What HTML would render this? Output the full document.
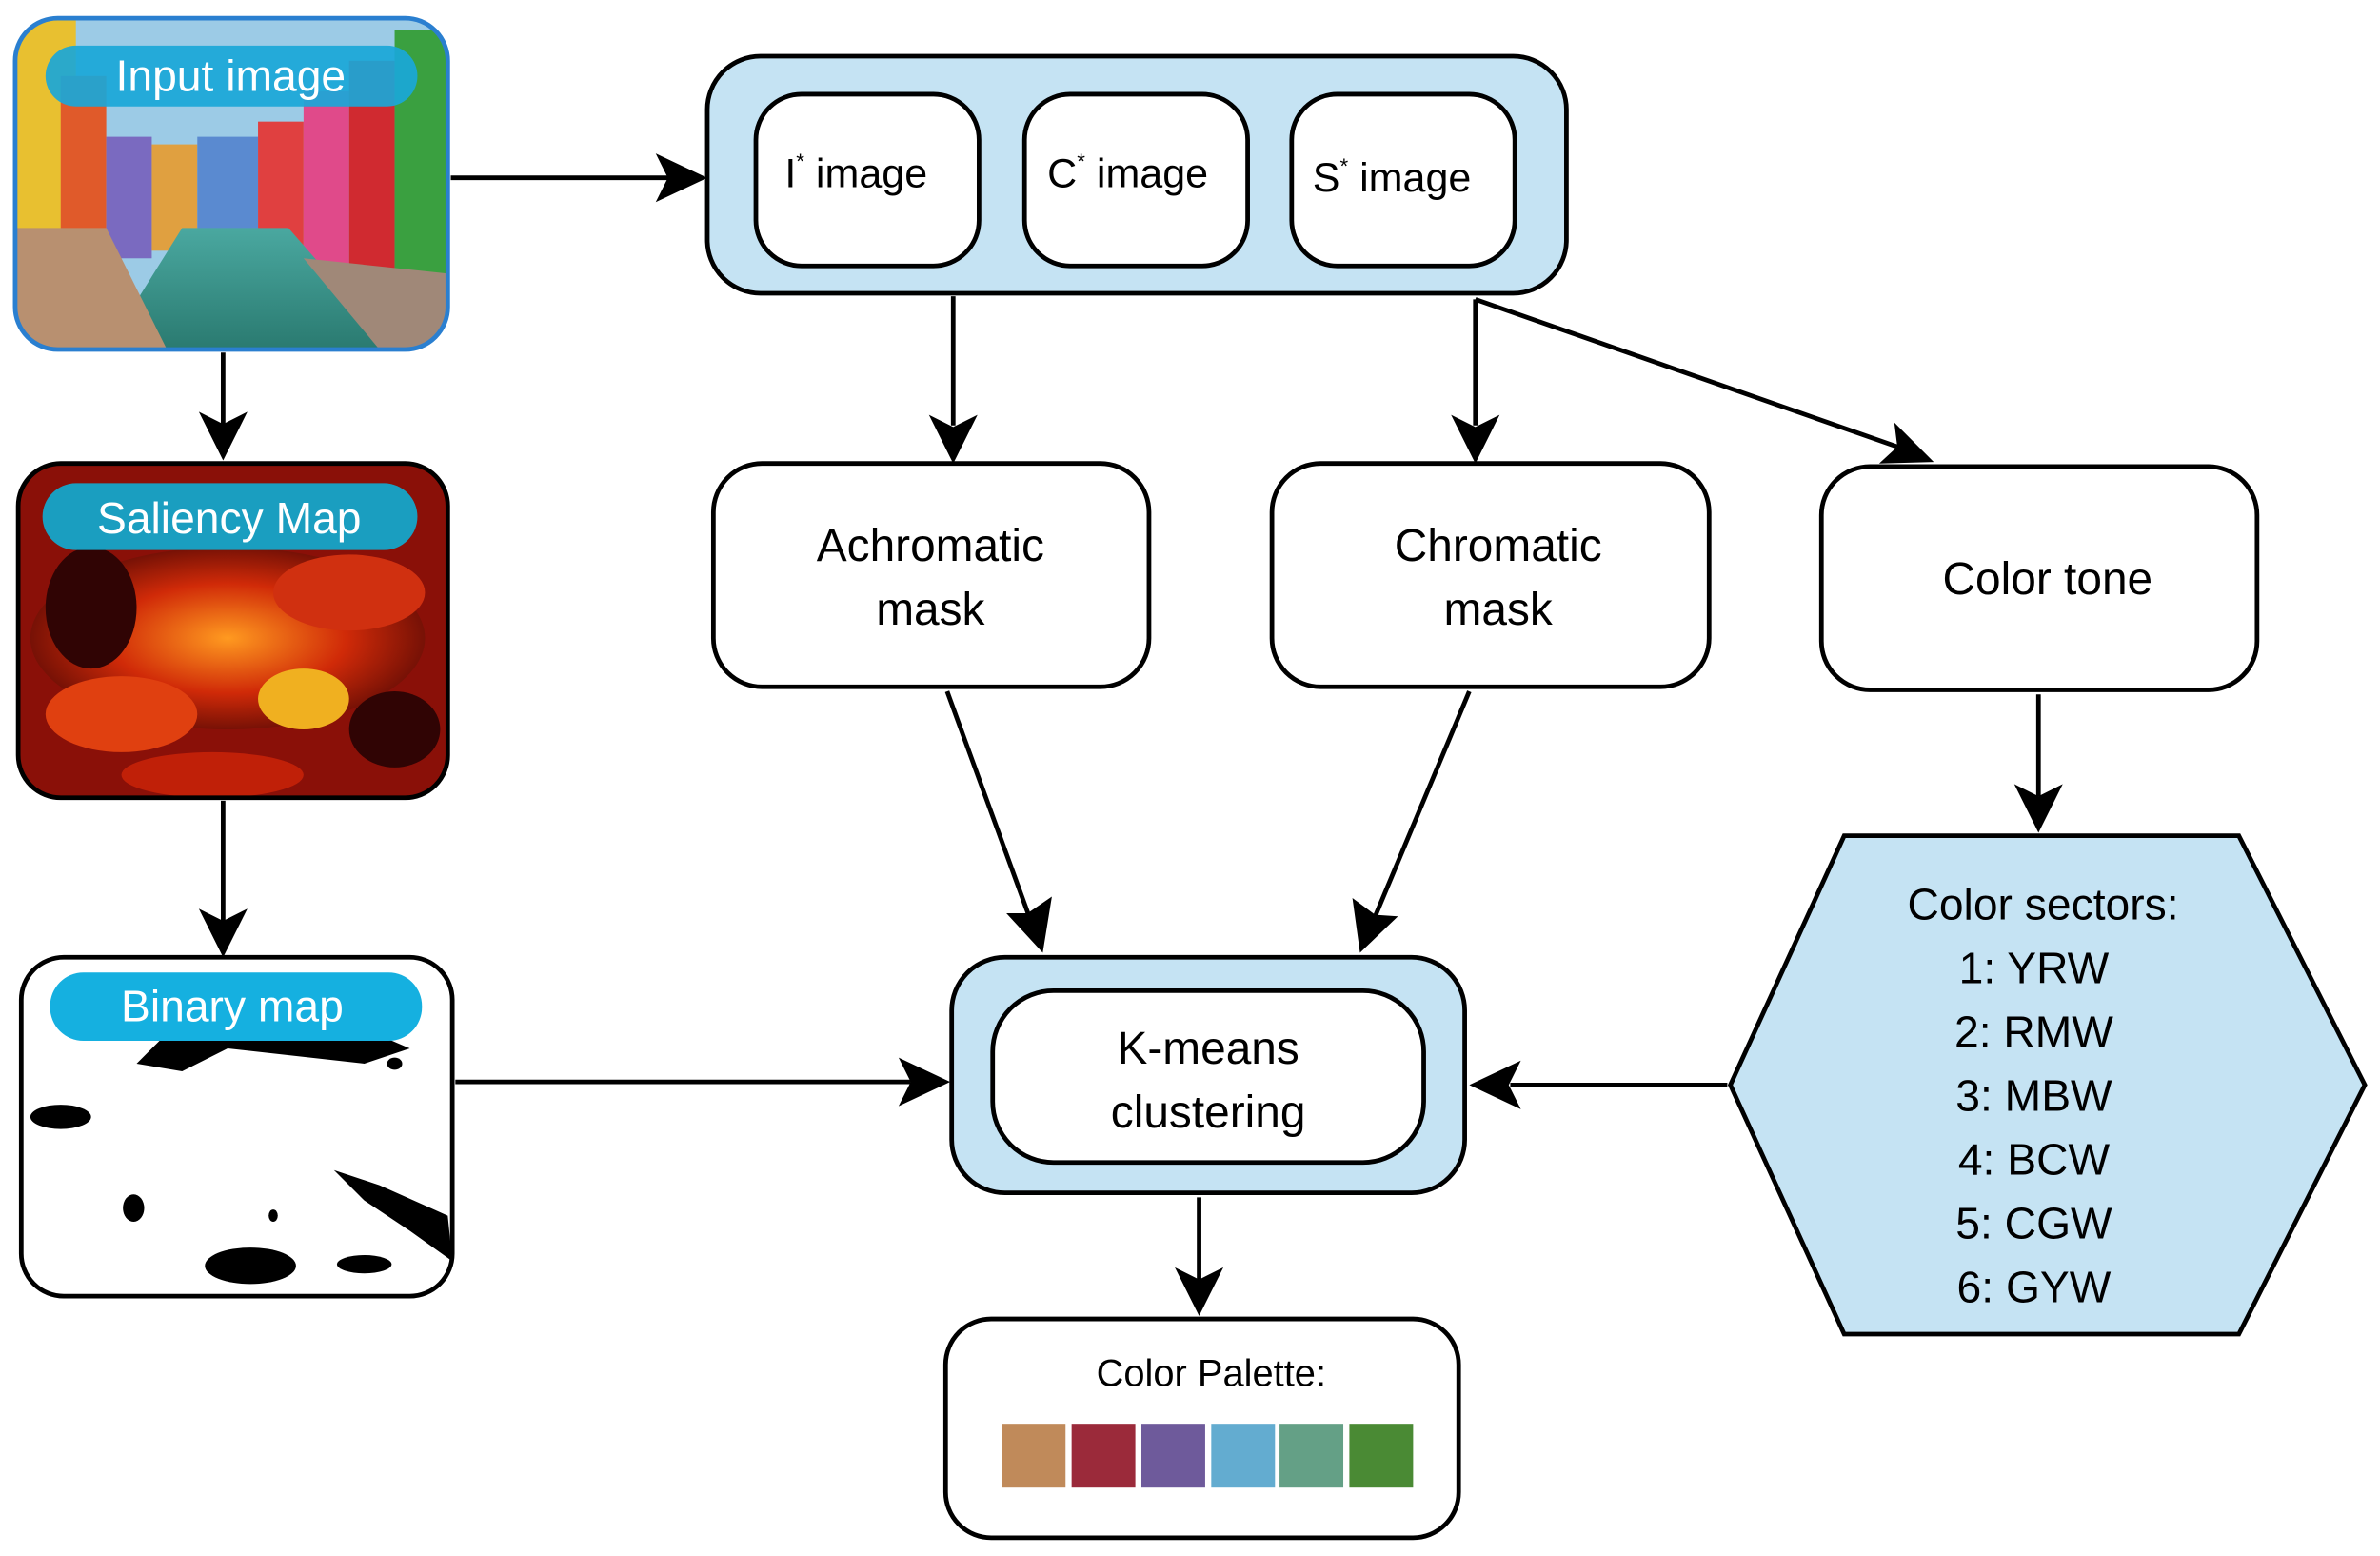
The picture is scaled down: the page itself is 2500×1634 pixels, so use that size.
<!DOCTYPE html>
<html><head><meta charset="utf-8"><style>
html,body{margin:0;padding:0;background:#fff;}
svg{display:block;}
text{font-family:"Liberation Sans",sans-serif;}
</style></head><body>
<svg width="2500" height="1634" viewBox="0 0 1568 1024" preserveAspectRatio="none" xmlns="http://www.w3.org/2000/svg">
<defs>
<marker id="ah" markerWidth="10" markerHeight="10" refX="9" refY="5" orient="auto" markerUnits="userSpaceOnUse" viewBox="0 0 10 10">
</marker>
<clipPath id="c1"><rect x="10" y="12" width="285" height="218" rx="28"/></clipPath>
<clipPath id="c2"><rect x="12" y="305" width="283" height="220" rx="28"/></clipPath>
<clipPath id="c3"><rect x="14" y="630" width="284" height="223" rx="28"/></clipPath>
<radialGradient id="hot" cx="50%" cy="50%" r="60%"><stop offset="0" stop-color="#ff9a20"/><stop offset="0.5" stop-color="#d02a08"/><stop offset="1" stop-color="#4a0505"/></radialGradient>
<linearGradient id="water" x1="0" y1="0" x2="0" y2="1"><stop offset="0" stop-color="#4aa8a0"/><stop offset="1" stop-color="#2a7a70"/></linearGradient>
</defs>

<!-- Input image -->
<g clip-path="url(#c1)">
<rect x="10" y="12" width="285" height="218" fill="#9ccbe6"/>
<rect x="10" y="12" width="40" height="218" fill="#e8c030"/>
<rect x="40" y="50" width="30" height="150" fill="#e05a2a"/>
<rect x="70" y="90" width="30" height="80" fill="#7a6ac0"/>
<rect x="100" y="95" width="30" height="70" fill="#e0a040"/>
<rect x="130" y="90" width="40" height="70" fill="#5a8ad0"/>
<rect x="170" y="80" width="30" height="90" fill="#e04040"/>
<rect x="200" y="60" width="30" height="120" fill="#e04a8a"/>
<rect x="230" y="40" width="30" height="160" fill="#d02a30"/>
<rect x="260" y="20" width="35" height="200" fill="#3aa040"/>
<polygon points="70,230 120,150 190,150 260,230" fill="url(#water)"/>
<polygon points="10,150 70,150 110,230 10,230" fill="#b89070"/>
<polygon points="200,170 295,180 295,230 250,230" fill="#a08878"/>
</g>
<rect x="10" y="12" width="285" height="218" rx="28" fill="none" stroke="#2a7fd0" stroke-width="3"/>
<rect x="30" y="30" width="245" height="40" rx="20" fill="#1aa7d8" opacity="0.92"/>
<text x="152" y="60" font-size="29" fill="#fff" text-anchor="middle">Input image</text>

<!-- Saliency -->
<g clip-path="url(#c2)">
<rect x="12" y="305" width="283" height="220" fill="#8a1008"/>
<ellipse cx="150" cy="420" rx="130" ry="60" fill="url(#hot)"/>
<ellipse cx="80" cy="470" rx="50" ry="25" fill="#e04010"/>
<ellipse cx="200" cy="460" rx="30" ry="20" fill="#f0b020"/>
<ellipse cx="230" cy="390" rx="50" ry="25" fill="#d03010"/>
<ellipse cx="60" cy="400" rx="30" ry="40" fill="#300404"/>
<ellipse cx="260" cy="480" rx="30" ry="25" fill="#300404"/>
<ellipse cx="140" cy="510" rx="60" ry="15" fill="#c02008"/>
</g>
<rect x="12" y="305" width="283" height="220" rx="28" fill="none" stroke="#000" stroke-width="3"/>
<rect x="28" y="318" width="247" height="44" rx="22" fill="#1a9ec0"/>
<text x="151" y="351" font-size="29" fill="#fff" text-anchor="middle">Saliency Map</text>

<!-- Binary -->
<g clip-path="url(#c3)">
<rect x="14" y="630" width="284" height="223" fill="#fff"/>
<polygon points="90,700 110,680 200,660 270,690 240,700 150,690 120,705" fill="#000"/>
<ellipse cx="40" cy="735" rx="20" ry="8" fill="#000"/>
<ellipse cx="88" cy="795" rx="7" ry="9" fill="#000"/>
<polygon points="220,770 250,780 295,800 298,830 270,810 240,790" fill="#000"/>
<ellipse cx="165" cy="833" rx="30" ry="12" fill="#000"/>
<ellipse cx="240" cy="832" rx="18" ry="6" fill="#000"/>
<ellipse cx="260" cy="700" rx="5" ry="4" fill="#000"/>
<ellipse cx="180" cy="800" rx="3" ry="4" fill="#000"/>
</g>
<rect x="14" y="630" width="284" height="223" rx="28" fill="none" stroke="#000" stroke-width="3"/>
<rect x="33" y="640" width="245" height="45" rx="22" fill="#15b0e0"/>
<text x="153" y="672" font-size="29" fill="#fff" text-anchor="middle">Binary map</text>

<!-- Top container -->
<rect x="466" y="37" width="566" height="156" rx="35" fill="#c5e3f3" stroke="#000" stroke-width="3"/>
<rect x="498" y="62" width="147" height="113" rx="30" fill="#fff" stroke="#000" stroke-width="3"/>
<rect x="675" y="62" width="147" height="113" rx="30" fill="#fff" stroke="#000" stroke-width="3"/>
<rect x="851" y="62" width="147" height="113" rx="30" fill="#fff" stroke="#000" stroke-width="3"/>
<text x="564" y="123" font-size="27" text-anchor="middle">I<tspan font-size="14" dy="-12">*</tspan><tspan dy="12"> image</tspan></text>
<text x="743" y="123" font-size="27" text-anchor="middle">C<tspan font-size="14" dy="-12">*</tspan><tspan dy="12"> image</tspan></text>
<text x="917" y="126" font-size="27" text-anchor="middle">S<tspan font-size="14" dy="-12">*</tspan><tspan dy="12"> image</tspan></text>

<!-- Mid boxes -->
<rect x="470" y="305" width="287" height="147" rx="32" fill="#fff" stroke="#000" stroke-width="3"/>
<text x="613" y="369" font-size="30" text-anchor="middle">Achromatic</text>
<text x="613" y="411" font-size="30" text-anchor="middle">mask</text>
<rect x="838" y="305" width="288" height="147" rx="32" fill="#fff" stroke="#000" stroke-width="3"/>
<text x="987" y="369" font-size="30" text-anchor="middle">Chromatic</text>
<text x="987" y="411" font-size="30" text-anchor="middle">mask</text>
<rect x="1200" y="307" width="287" height="147" rx="32" fill="#fff" stroke="#000" stroke-width="3"/>
<text x="1349" y="391" font-size="30" text-anchor="middle">Color tone</text>

<!-- K-means -->
<rect x="627" y="630" width="338" height="155" rx="35" fill="#c5e3f3" stroke="#000" stroke-width="3"/>
<rect x="654" y="652" width="284" height="113" rx="40" fill="#fff" stroke="#000" stroke-width="3"/>
<text x="796" y="700" font-size="30" text-anchor="middle">K-means</text>
<text x="796" y="742" font-size="30" text-anchor="middle">clustering</text>

<!-- Hexagon -->
<polygon points="1140,714 1215,550 1475,550 1558,714 1475,878 1215,878" fill="#c5e3f3" stroke="#000" stroke-width="3"/>
<g font-size="29" text-anchor="middle">
<text x="1346" y="605">Color sectors:</text>
<text x="1340" y="647">1: YRW</text>
<text x="1340" y="689">2: RMW</text>
<text x="1340" y="731">3: MBW</text>
<text x="1340" y="773">4: BCW</text>
<text x="1340" y="815">5: CGW</text>
<text x="1340" y="857">6: GYW</text>
</g>

<!-- Palette -->
<rect x="623" y="868" width="338" height="144" rx="30" fill="#fff" stroke="#000" stroke-width="3"/>
<text x="798" y="912" font-size="25" text-anchor="middle">Color Palette:</text>
<rect x="660" y="937" width="42" height="42" fill="#c08a5a"/>
<rect x="706" y="937" width="42" height="42" fill="#9b2a3a"/>
<rect x="752" y="937" width="42" height="42" fill="#6e5a9b"/>
<rect x="798" y="937" width="42" height="42" fill="#63acd0"/>
<rect x="843" y="937" width="42" height="42" fill="#64a086"/>
<rect x="889" y="937" width="42" height="42" fill="#4a8a34"/>

<!-- Connectors -->
<g stroke="#000" stroke-width="3" fill="none">
<line x1="297" y1="117" x2="440" y2="117"/>
<line x1="147" y1="232" x2="147" y2="280"/>
<line x1="147" y1="527" x2="147" y2="606"/>
<line x1="300" y1="712" x2="600" y2="712"/>
<line x1="628" y1="195" x2="628" y2="280"/>
<line x1="972" y1="197" x2="972" y2="280"/>
<line x1="972" y1="197" x2="1250" y2="294"/>
<line x1="624" y1="455" x2="678" y2="603"/>
<line x1="968" y1="455" x2="906" y2="603"/>
<line x1="1343" y1="457" x2="1343" y2="524"/>
<line x1="1138" y1="714" x2="995" y2="714"/>
<line x1="790" y1="788" x2="790" y2="842"/>
</g>
<g fill="#000">
<polygon points="466,117 432,101 440,117 432,133"/>
<polygon points="147,303 131,271 147,279 163,271"/>
<polygon points="147,630 131,598 147,606 163,598"/>
<polygon points="626,712 592,696 600,712 592,728"/>
<polygon points="628,305 612,273 628,281 644,273"/>
<polygon points="972,305 956,273 972,281 988,273"/>
<polygon points="1274,304 1238,305 1250,294 1248,278"/>
<polygon points="687,627 663,601 677,601 693,590"/>
<polygon points="896,627 891,591 906,602 921,603"/>
<polygon points="1343,548 1327,516 1343,524 1359,516"/>
<polygon points="968,714 1002,698 994,714 1002,730"/>
<polygon points="790,866 774,834 790,842 806,834"/>
</g>
</svg>
</body></html>
